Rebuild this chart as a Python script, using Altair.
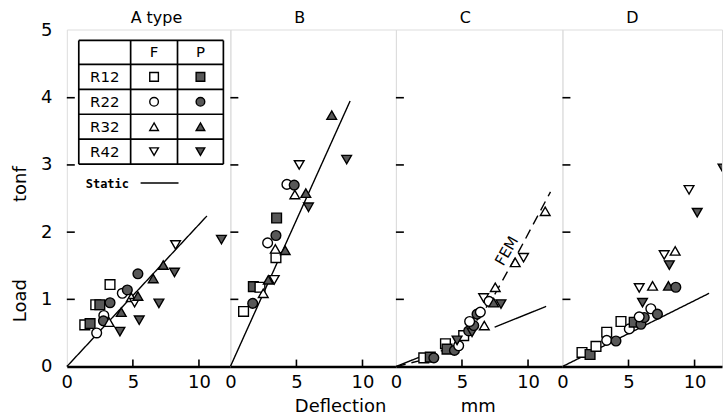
import altair as alt
import pandas as pd

# ---------------- data ----------------
SERIES = ["R12F", "R12P", "R22F", "R22P", "R32F", "R32P", "R42F", "R42P"]
SHAPES = ["square", "square", "circle", "circle",
          "triangle-up", "triangle-up", "triangle-down", "triangle-down"]

X_TICKS = [0, 5, 10]
Y_TICKS = [0, 1, 2, 3, 4, 5]
X_INNER_TICKS = [5, 10]
Y_INNER_TICKS = [1, 2, 3, 4]

# Panel A
A_x = [3.27, 2.19, 2.5, 3.27, 1.36, 1.76, 2.26, 2.8, 2.77, 3.2, 4.12, 4.02, 5.48,
       4.2, 4.58, 5.38, 4.88, 5.13, 5.38, 6.54, 6.97, 7.3, 8.15, 8.23, 11.7]
A_y = [1.22, 0.92, 0.92, 0.95, 0.62, 0.64, 0.50, 0.76, 0.68, 0.66, 0.81, 0.52, 0.69,
       1.09, 1.14, 1.38, 1.03, 0.95, 1.05, 1.31, 0.94, 1.51, 1.40, 1.81, 1.89]
A_s = ["R12F", "R12F", "R12P", "R22P", "R12F", "R12P", "R22F", "R22F", "R22P", "R32F",
       "R32P", "R42P", "R42P", "R22F", "R22P", "R22P", "R32F", "R42F", "R32P", "R32P",
       "R42P", "R32P", "R42P", "R42F", "R42P"]

# Panel B
B_x = [1.0, 1.69, 1.74, 2.24, 2.49, 2.87, 3.32, 3.45, 3.4, 4.15, 2.82, 3.45, 3.5,
       4.28, 4.83, 4.88, 5.71, 5.91, 5.21, 7.67, 8.8]
B_y = [0.82, 0.94, 1.19, 1.18, 1.09, 1.29, 1.29, 1.62, 1.75, 1.73, 1.84, 1.95, 2.21,
       2.71, 2.70, 2.56, 2.58, 2.37, 3.0, 3.74, 3.08]
B_s = ["R12F", "R22P", "R12P", "R12F", "R32F", "R32P", "R42F", "R12F", "R32F", "R32P",
       "R22F", "R22P", "R12P", "R22F", "R22P", "R32F", "R32P", "R42P", "R42F", "R32P",
       "R42P"]

# Panel C
C_x = [2.11, 2.6, 2.87, 3.75, 3.87, 4.43, 4.75, 5.13, 4.63, 5.51, 5.76, 5.89, 5.58,
       6.14, 6.39, 6.69, 6.64, 7.05, 7.4, 7.95, 7.52, 9.03, 9.66, 11.3]
C_y = [0.13, 0.14, 0.13, 0.34, 0.26, 0.24, 0.31, 0.46, 0.39, 0.53, 0.51, 0.61, 0.67,
       0.78, 0.81, 0.61, 1.02, 0.97, 0.95, 0.93, 1.18, 1.55, 1.62, 2.31]
C_s = ["R12F", "R12P", "R22P", "R12F", "R12P", "R22P", "R22F", "R12F", "R42P", "R22P",
       "R42P", "R22P", "R22F", "R22P", "R22F", "R32F", "R42F", "R22F", "R32P", "R42P",
       "R32F", "R32F", "R42F", "R32F"]

# Panel D
D_x = [1.48, 2.09, 2.54, 3.35, 3.35, 4.05, 4.43, 5.06, 5.43, 5.94, 6.19, 5.81, 6.69,
       7.19, 6.06, 5.81, 6.82, 8.02, 8.58, 7.7, 8.53, 8.09, 9.58, 10.2, 12.15]
D_y = [0.21, 0.18, 0.30, 0.51, 0.39, 0.38, 0.67, 0.56, 0.66, 0.63, 0.73, 0.74, 0.86,
       0.78, 0.95, 1.17, 1.20, 1.20, 1.18, 1.66, 1.72, 1.51, 2.63, 2.29, 2.95]
D_s = ["R12F", "R12P", "R12F", "R12F", "R22F", "R22P", "R12F", "R22F", "R12P", "R22P",
       "R22P", "R22F", "R22F", "R22P", "R42P", "R42F", "R32F", "R32P", "R22P", "R42F",
       "R32F", "R42P", "R42F", "R42P", "R42P"]

# Lines
static_A_x = [0, 10.6]
static_A_y = [0, 2.24]
static_B_x = [0, 9.06]
static_B_y = [0, 3.95]
static_C_x = [0, 2.1, 7.47, 11.37]
static_C_y = [0, 0.165, 0.586, 0.895]
static_C_seg = [1, 1, 2, 2]
static_D_x = [0, 11.1]
static_D_y = [0, 1.09]
fem_C_x = [0, 2.5, 5, 6.5, 7.5, 9.4, 11.7]
fem_C_y = [0, 0.12, 0.42, 0.78, 1.08, 1.75, 2.6]

LEGEND_ROWS = ["R12", "R22", "R32", "R42"]

# ---------------- styling ----------------
FONT = "DejaVu Sans"
FILL_P = "#585858"
FILLS = ["white" if s.endswith("F") else FILL_P for s in SERIES]
PX_PER_MM = 13.25
H = 338
YMAX = 5.015

one = alt.Data(values=[{"k": 0}])


def hrule(x1, x2, y, w=1.7):
    return alt.Chart(one).mark_rule(color="black", strokeWidth=w).encode(
        x=alt.value(x1), x2=alt.value(x2), y=alt.value(y))


def vrule(x, y1, y2, w=1.7):
    return alt.Chart(one).mark_rule(color="black", strokeWidth=w).encode(
        x=alt.value(x), y=alt.value(y1), y2=alt.value(y2))


def label(text, x, y, size=15, angle=0, align="center", baseline="middle", font=FONT, weight="normal"):
    return alt.Chart(one).mark_text(text=text, fontSize=size, angle=angle, align=align,
                                    baseline=baseline, font=font, fontWeight=weight,
                                    color="black").encode(x=alt.value(x), y=alt.value(y))


def symbol(shape, filled, x, y):
    return alt.Chart(one).mark_point(shape=shape, filled=True, fill=FILL_P if filled else "white",
                                     stroke="black", strokeWidth=1.4, size=75, opacity=1).encode(
        x=alt.value(x), y=alt.value(y))


def panel(xs, ys, ss, width, title, lines, yaxis=False, xtitle=None, xtitle_x=0, extra=()):
    xmax = width / PX_PER_MM
    xsc = alt.Scale(domain=[0, xmax], nice=False, zero=False)
    ysc = alt.Scale(domain=[0, YMAX], nice=False)
    xaxis_kw = dict(values=X_TICKS, format="d", ticks=False, domain=True, domainWidth=2.6,
                    domainColor="black", labelFontSize=18, labelPadding=7, labelFont=FONT,
                    labelColor="black", grid=False, labelFlush=False)
    if xtitle:
        xaxis_kw.update(title=xtitle, titleFontSize=18, titleFont=FONT, titleFontWeight="normal",
                        titleX=xtitle_x, titleY=45, titleBaseline="alphabetic", titleColor="black")
    else:
        xaxis_kw.update(title="")
    if yaxis:
        yax = alt.Axis(values=Y_TICKS, format="d", ticks=False, domain=False, labelFontSize=18,
                       labelPadding=15, labelFont=FONT, labelColor="black", grid=False, title="",
                       labelFlush=False)
    else:
        yax = None

    pts = pd.DataFrame({"x": xs, "y": ys, "s": ss})
    layers = []
    layers.append(alt.Chart(pd.DataFrame({"x": X_INNER_TICKS})).mark_rule(color="black", strokeWidth=1.6).encode(
        x=alt.X("x:Q", scale=xsc, axis=alt.Axis(**xaxis_kw)), y=alt.value(H), y2=alt.value(H - 7)))
    layers.append(alt.Chart(pd.DataFrame({"y": Y_INNER_TICKS})).mark_rule(color="black", strokeWidth=1.6).encode(
        y=alt.Y("y:Q", scale=ysc, axis=yax), x=alt.value(0), x2=alt.value(8)))
    for lx, ly, seg, dash in lines:
        df = pd.DataFrame({"x": lx, "y": ly, "g": seg})
        mk = alt.Chart(df).mark_line(color="black", strokeWidth=1.4,
                                     strokeDash=dash if dash else [1, 0])
        layers.append(mk.encode(x=alt.X("x:Q", scale=xsc), y=alt.Y("y:Q", scale=ysc),
                                detail="g:N", order="x:Q"))
    layers.append(alt.Chart(pts).mark_point(filled=True, opacity=1, stroke="black", strokeWidth=1.4,
                                            size=95, clip=True).encode(
        x=alt.X("x:Q", scale=xsc),
        y=alt.Y("y:Q", scale=ysc),
        shape=alt.Shape("s:N", scale=alt.Scale(domain=SERIES, range=SHAPES), legend=None),
        fill=alt.Fill("s:N", scale=alt.Scale(domain=SERIES, range=FILLS), legend=None),
    ))
    layers.append(label(title, 64, -7, size=16, align="left", baseline="alphabetic"))
    layers.extend(extra)
    return alt.layer(*layers).properties(width=width, height=H)


# legend table inside panel A (pixel positions relative to panel A)
tbl = []
row_y = [11, 35, 60, 85, 110, 135]
col_x = [12, 64, 111, 157]
for yy in row_y:
    tbl.append(hrule(12, 157, yy))
for xx in col_x:
    tbl.append(vrule(xx, 11, 135))
tbl.append(label("F", 87.5, 23, size=15))
tbl.append(label("P", 134, 23, size=15))
for i, r in enumerate(LEGEND_ROWS):
    cy = (row_y[i + 1] + row_y[i + 2]) / 2
    tbl.append(label(r, 38, cy, size=15))
    base = SHAPES[2 * i]
    tbl.append(symbol(base, False, 87.5, cy))
    tbl.append(symbol(base, True, 134, cy))
tbl.append(label("Static", 19, 155, size=12, align="left", font="DejaVu Sans Mono", weight="bold"))
tbl.append(hrule(74, 112, 154, w=1.5))
tbl.append(label("Load", -46, 272, size=18, angle=270))
tbl.append(label("tonf", -46, 155, size=18, angle=270))

pA = panel(A_x, A_y, A_s, 164, "A  type",
           [(static_A_x, static_A_y, [1, 1], None)], yaxis=True, extra=tbl)
pB = panel(B_x, B_y, B_s, 166, "B",
           [(static_B_x, static_B_y, [1, 1], None)], xtitle="Deflection", xtitle_x=110)
fem_lbl = alt.Chart(one).mark_text(text="FEM", fontSize=15, angle=300, font=FONT, color="black").encode(
    x=alt.value(111), y=alt.value(222))
pC = panel(C_x, C_y, C_s, 167, "C",
           [(static_C_x, static_C_y, static_C_seg, None),
            (fem_C_x, fem_C_y, [1] * len(fem_C_x), [10, 6])],
           xtitle="mm", xtitle_x=82, extra=[fem_lbl])
pD = panel(D_x, D_y, D_s, 160, "D",
           [(static_D_x, static_D_y, [1, 1], None)])

chart = alt.hconcat(pA, pB, pC, pD, spacing=0, bounds="flush").configure_view(
    stroke="black", strokeWidth=1.7
).configure(
    font=FONT, padding={"left": 11, "top": 8, "right": 0, "bottom": 0}, background="white"
)

chart.save("out.html", embed_options={"renderer": "svg", "actions": False})
